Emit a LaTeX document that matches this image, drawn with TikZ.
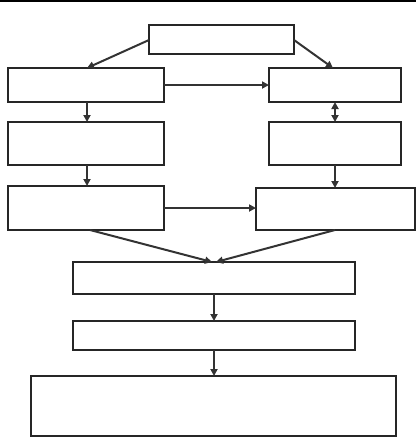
\documentclass[tikz,border=0pt]{standalone}
\usetikzlibrary{arrows.meta}
\begin{document}
\begin{tikzpicture}[x=1pt,y=-1pt,
  box/.style={draw=black!85,line width=2pt,fill=white},
  conn/.style={draw=black!80,line width=2pt,-{Triangle[length=7pt,width=7pt]}},
  dconn/.style={draw=black!80,line width=2pt,{Triangle[length=7pt,width=7pt]}-{Triangle[length=7pt,width=7pt]}}]
\useasboundingbox (0,0) rectangle (416,437);
\draw[line width=1.5pt] (0,1) -- (416,1);
\path[box] (149,25) rectangle (294,54) node[midway] (T) {};
\path[box] (8,68) rectangle (164,102) node[midway] (L1) {};
\path[box] (269,68) rectangle (401,102) node[midway] (R1) {};
\path[box] (8,122) rectangle (164,165) node[midway] (L2) {};
\path[box] (269,122) rectangle (401,165) node[midway] (R2) {};
\path[box] (8,186) rectangle (164,230) node[midway] (L3) {};
\path[box] (256,188) rectangle (415,230) node[midway] (R3) {};
\path[box] (73,262) rectangle (355,294) node[midway] (M1) {};
\path[box] (73,321) rectangle (355,350) node[midway] (M2) {};
\path[box] (31,376) rectangle (396,436) node[midway] (M3) {};
\coordinate (Tl) at (149,40);
\coordinate (Tr) at (294,40);
\coordinate (L1t) at (87,68);
\coordinate (R1t) at (333,68);
\coordinate (L1r) at (164,85);
\coordinate (R1l) at (269,85);
\coordinate (L1b) at (87,102);
\coordinate (L2t) at (87,122);
\coordinate (R1b) at (335,102);
\coordinate (R2t) at (335,122);
\coordinate (L2b) at (87,165);
\coordinate (L3t) at (87,186);
\coordinate (R2b) at (335,165);
\coordinate (R3t) at (335,188);
\coordinate (L3r) at (164,208);
\coordinate (R3l) at (256,208);
\coordinate (L3b) at (90,230);
\coordinate (R3b) at (335,230);
\coordinate (M1ta) at (212,262);
\coordinate (M1tb) at (216,262);
\coordinate (M1b) at (214,294);
\coordinate (M2t) at (214,321);
\coordinate (M2b) at (214,350);
\coordinate (M3t) at (214,376);
\draw[conn] (Tl) -- (L1t);
\draw[conn] (Tr) -- (R1t);
\draw[conn] (L1r) -- (R1l);
\draw[conn] (L1b) -- (L2t);
\draw[dconn] (R1b) -- (R2t);
\draw[conn] (L2b) -- (L3t);
\draw[conn] (R2b) -- (R3t);
\draw[conn] (L3r) -- (R3l);
\draw[conn] (L3b) -- (M1ta);
\draw[conn] (R3b) -- (M1tb);
\draw[conn] (M1b) -- (M2t);
\draw[conn] (M2b) -- (M3t);
\end{tikzpicture}
\end{document}
